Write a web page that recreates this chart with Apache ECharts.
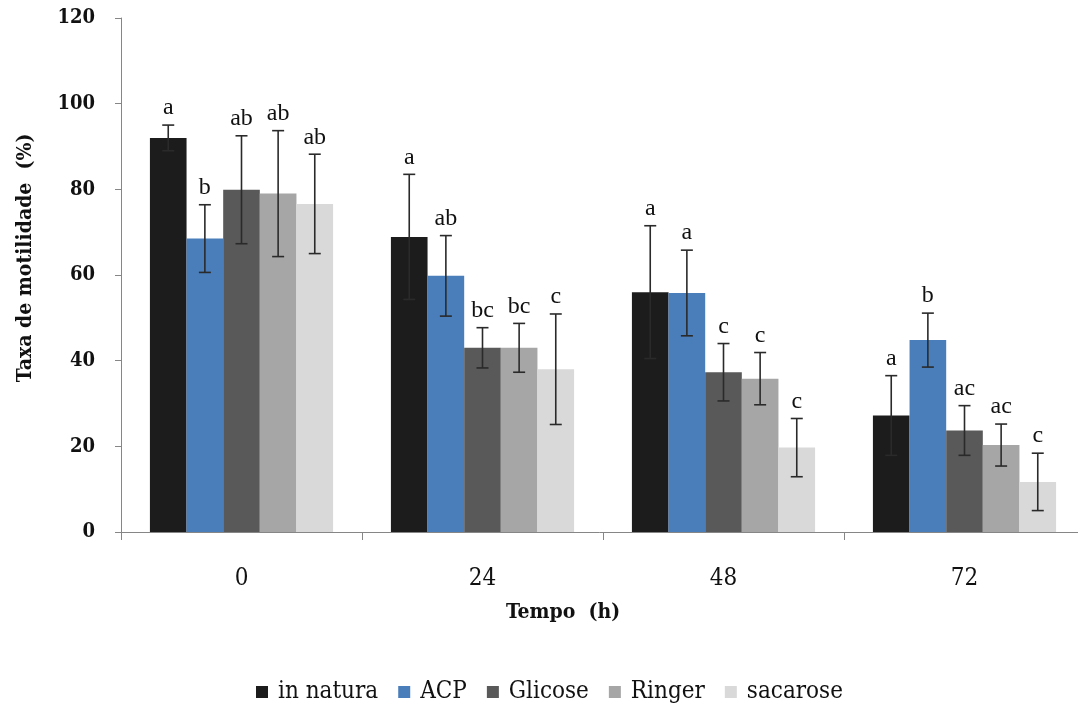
<!DOCTYPE html>
<html><head><meta charset="utf-8">
<script src="https://cdn.jsdelivr.net/npm/echarts@6/dist/echarts.min.js"></script>
<style>html,body{margin:0;padding:0;background:#fff}#c{width:1078px;height:704px}</style>
</head><body><div id="c"></div>
<script>
const categories = ['0', '24', '48', '72'];
const seriesNames = ['in natura', 'ACP', 'Glicose', 'Ringer', 'sacarose'];
const inNatura = [92.0, 68.9, 56.0, 27.2];
const acp = [68.5, 59.8, 55.8, 44.8];
const glicose = [79.9, 43.0, 37.3, 23.7];
const ringer = [79.0, 43.0, 35.8, 20.3];
const sacarose = [76.6, 38.0, 19.7, 11.7];
const errInNatura = [3.0, 14.6, 15.5, 9.3];
const errAcp = [7.9, 9.4, 10.0, 6.3];
const errGlicose = [12.6, 4.7, 6.7, 5.8];
const errRinger = [14.7, 5.7, 6.1, 4.9];
const errSacarose = [11.6, 12.9, 6.8, 6.7];
const lettersInNatura = ['a', 'a', 'a', 'a'];
const lettersAcp = ['b', 'ab', 'a', 'b'];
const lettersGlicose = ['ab', 'bc', 'c', 'ac'];
const lettersRinger = ['ab', 'bc', 'c', 'ac'];
const lettersSacarose = ['ab', 'c', 'c', 'c'];
const yTicks = [0, 20, 40, 60, 80, 100, 120];

const means = [inNatura, acp, glicose, ringer, sacarose];
const errs = [errInNatura, errAcp, errGlicose, errRinger, errSacarose];
const letters = [lettersInNatura, lettersAcp, lettersGlicose, lettersRinger, lettersSacarose];
const colors = ['#1c1c1c', '#4a7ebb', '#595959', '#a6a6a6', '#d9d9d9'];
const catGap = 0.24;
const serif = '"Liberation Serif", "DejaVu Serif", serif';
const wide = '"DejaVu Serif Condensed", "DejaVu Serif", serif';

const series = [];
seriesNames.forEach((name, i) => {
  series.push({
    name: name, type: 'bar', data: means[i], barGap: '0%', barCategoryGap: (catGap * 100) + '%',
    itemStyle: { color: colors[i] }, emphasis: { disabled: true }
  });
});
seriesNames.forEach((name, i) => {
  const data = categories.map((c, k) => [k, means[i][k] - errs[i][k], means[i][k] + errs[i][k]]);
  series.push({
    type: 'custom', name: name + ' err', silent: true, z: 5,
    data: data,
    renderItem: function (params, api) {
      const k = api.value(0);
      const catW = api.size([1, 0])[0];
      const bw = catW * (1 - catGap) / 5;
      const lo = api.coord([k, api.value(1)]);
      const hi = api.coord([k, api.value(2)]);
      const x = lo[0] + (i - 2) * bw;
      const cap = 6;
      const st = { stroke: '#2a2a2a', lineWidth: 1.6 };
      return {
        type: 'group', children: [
          { type: 'line', shape: { x1: x, y1: lo[1], x2: x, y2: hi[1] }, style: st },
          { type: 'line', shape: { x1: x - cap, y1: lo[1], x2: x + cap, y2: lo[1] }, style: st },
          { type: 'line', shape: { x1: x - cap, y1: hi[1], x2: x + cap, y2: hi[1] }, style: st },
          { type: 'text', x: x, y: hi[1] - 5, style: { text: letters[i][k], fill: '#111', font: '24px ' + serif, textAlign: 'center', textVerticalAlign: 'bottom' } }
        ]
      };
    }
  });
});

const chart = echarts.init(document.getElementById('c'));
chart.setOption({
  animation: false,
  backgroundColor: '#fff',
  grid: { left: 121, top: 18, width: 964, bottom: 172, containLabel: false, outerBoundsMode: 'none' },
  legend: {
    data: seriesNames, top: 675, left: 251, icon: 'rect', itemWidth: 12, itemHeight: 12, itemGap: 20,
    textStyle: { fontFamily: wide, fontSize: 24, color: '#111', padding: [0, 0, 0, 5] }
  },
  xAxis: {
    type: 'category', data: categories,
    axisLine: { lineStyle: { color: '#868686', width: 1 } },
    axisTick: { show: true, length: 8, inside: false, lineStyle: { color: '#868686' } },
    axisLabel: { margin: 35, fontFamily: wide, fontSize: 24, color: '#111' },
    name: 'Tempo  (h)', nameLocation: 'middle', nameGap: 70,
    nameTextStyle: { fontFamily: wide, fontSize: 21, fontWeight: 'bold', color: '#111', padding: [0, 80, 0, 0] }
  },
  yAxis: {
    type: 'value', min: 0, max: 120, interval: 20,
    splitLine: { show: false },
    axisLine: { show: true, lineStyle: { color: '#868686', width: 1 } },
    axisTick: { show: true, length: 6, lineStyle: { color: '#868686' } },
    axisLabel: { margin: 26, fontFamily: wide, fontSize: 20, fontWeight: 'bold', color: '#111',
      formatter: v => yTicks.includes(v) ? String(v) : '' },
    name: 'Taxa de motilidade  (%)', nameLocation: 'middle', nameGap: 85, nameRotate: 90,
    nameTextStyle: { fontFamily: wide, fontSize: 21, fontWeight: 'bold', color: '#111', padding: [0, 0, 0, 34] }
  },
  series: series
});
</script></body></html>
